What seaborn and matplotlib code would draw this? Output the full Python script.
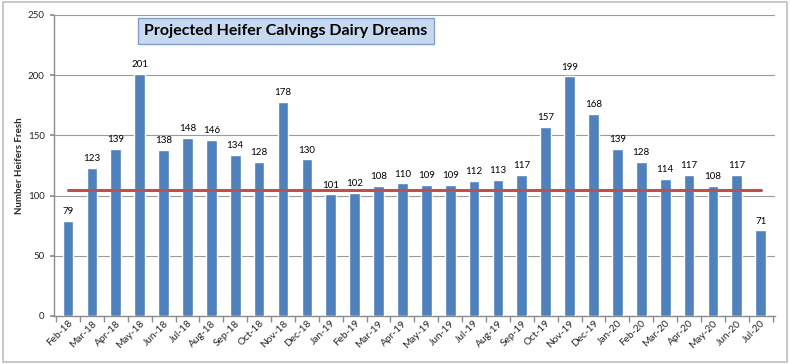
import matplotlib
matplotlib.use("Agg")
import matplotlib.pyplot as plt
import seaborn as sns
import pandas as pd
from matplotlib.patches import Rectangle

months = ["Feb-18", "Mar-18", "Apr-18", "May-18", "Jun-18", "Jul-18", "Aug-18", "Sep-18",
          "Oct-18", "Nov-18", "Dec-18", "Jan-19", "Feb-19", "Mar-19", "Apr-19", "May-19",
          "Jun-19", "Jul-19", "Aug-19", "Sep-19", "Oct-19", "Nov-19", "Dec-19", "Jan-20",
          "Feb-20", "Mar-20", "Apr-20", "May-20", "Jun-20", "Jul-20"]
fresh = [79, 123, 139, 201, 138, 148, 146, 134, 128, 178, 130, 101, 102, 108, 110, 109,
         109, 112, 113, 117, 157, 199, 168, 139, 128, 114, 117, 108, 117, 71]
target = 105
y_ticks = [0, 50, 100, 150, 200, 250]

sns.set_theme(style="white")
plt.rcParams['font.family'] = ['Lato', 'DejaVu Sans']

df = pd.DataFrame({"month": months, "fresh": fresh})

fig = plt.figure(figsize=(7.9, 3.64), dpi=100)
ax = fig.add_axes([0.068, 0.132, 0.913, 0.827])

sns.barplot(data=df, x="month", y="fresh", color="#4f81bd", saturation=1,
            width=0.45, ax=ax, zorder=3)

for i, v in enumerate(fresh):
    ax.text(i, v + 4, str(v), ha="center", va="bottom", fontsize=7, color="black", zorder=4)

ax.plot(range(len(months)), [target] * len(months), color="#c0504d", lw=2.2, zorder=5)

ax.set_ylim(0, 250)
ax.set_xlim(-0.6, len(months) - 0.4)
ax.set_yticks(y_ticks)
ax.yaxis.grid(True, color="#9a9a9a", lw=0.8, zorder=0)
ax.set_axisbelow(True)
ax.tick_params(axis="y", labelsize=7, length=3, direction="out", left=True, color="#8c8c8c")
ax.tick_params(axis="x", labelsize=7.3, length=0, pad=2)
for lbl in ax.get_xticklabels():
    lbl.set_rotation(45)
    lbl.set_ha("right")
    lbl.set_rotation_mode("anchor")
ax.set_xticks([i + 0.5 for i in range(-1, len(months))], minor=True)
ax.tick_params(axis="x", which="minor", length=4, color="#8c8c8c", bottom=True)

for s in ["top", "right"]:
    ax.spines[s].set_visible(False)
for s in ["left", "bottom"]:
    ax.spines[s].set_color("#8c8c8c")
    ax.spines[s].set_linewidth(1)

ax.set_xlabel("")
ax.set_ylabel("Number Heifers Fresh", fontsize=7, fontweight="bold", labelpad=3)

ax.text(0.322, 0.947, "Projected Heifer Calvings Dairy Dreams", transform=ax.transAxes,
        ha="center", va="center", fontsize=11.5, fontweight="bold", color="black", zorder=6,
        bbox=dict(boxstyle="square,pad=0.38", facecolor="#c6d9f1", edgecolor="#7f9fc9", lw=1))

fig.patches.append(Rectangle((0.004, 0.006), 0.992, 0.988, transform=fig.transFigure,
                             fill=False, edgecolor="#bfbfbf", lw=1.2))

fig.savefig("out.png", dpi=100)
